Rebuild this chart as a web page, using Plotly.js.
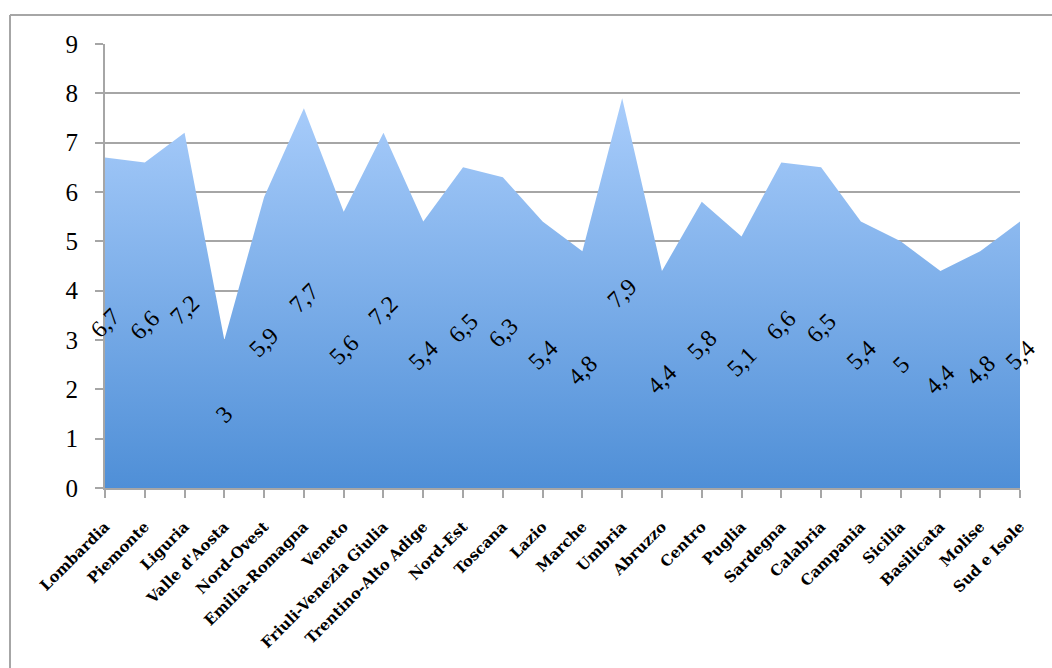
<!DOCTYPE html>
<html>
<head>
<meta charset="utf-8">
<script src="https://cdn.plot.ly/plotly-3.0.1.min.js"></script>
<style>
  html, body { margin: 0; padding: 0; background: #ffffff; }
  #chart { width: 1052px; height: 668px; }
</style>
</head>
<body>
<div id="chart"></div>
<script>
// Regions and macro-areas along the category axis
const regions = [
  "Lombardia", "Piemonte", "Liguria", "Valle d'Aosta", "Nord-Ovest",
  "Emilia-Romagna", "Veneto", "Friuli-Venezia Giulia", "Trentino-Alto Adige", "Nord-Est",
  "Toscana", "Lazio", "Marche", "Umbria", "Abruzzo",
  "Centro", "Puglia", "Sardegna", "Calabria", "Campania",
  "Sicilia", "Basilicata", "Molise", "Sud e Isole"
];

// Value per region
const values = [
  6.7, 6.6, 7.2, 3, 5.9,
  7.7, 5.6, 7.2, 5.4, 6.5,
  6.3, 5.4, 4.8, 7.9, 4.4,
  5.8, 5.1, 6.6, 6.5, 5.4,
  5, 4.4, 4.8, 5.4
];

const yTicks = [0, 1, 2, 3, 4, 5, 6, 7, 8, 9];

const SERIF = "'Liberation Serif', 'Times New Roman', serif";
const SLAB = "'DejaVu Serif', serif";

const W = 1052, H = 668;
const M = { l: 105, r: 32, t: 44, b: 180 };
const plotW = W - M.l - M.r, plotH = H - M.t - M.b;

const idx = regions.map((_, i) => i);

const trace = {
  type: 'scatter',
  mode: 'lines',
  x: idx,
  y: values,
  fill: 'tozeroy',
  line: { width: 0, color: 'rgba(0,0,0,0)' },
  fillgradient: {
    type: 'vertical',
    start: 0,
    stop: 7.9,
    colorscale: [[0, '#4f8fd7'], [1, '#a9cdfb']]
  },
  hoverinfo: 'skip',
  showlegend: false
};

// Value labels sit halfway up each point, comma as decimal separator
const labels = values.map((v, i) => ({
  x: i,
  y: v / 2,
  xref: 'x',
  yref: 'y',
  text: String(v).replace('.', ','),
  textangle: -45,
  showarrow: false,
  font: { family: SERIF, size: 24, color: '#000000' }
}));

// Outer frame: top and left edges
const px2x = p => (p - M.l) / plotW;
const px2y = p => 1 - (p - M.t) / plotH;
const frame = [
  { type: 'line', xref: 'paper', yref: 'paper', x0: px2x(10), x1: px2x(1060), y0: px2y(15), y1: px2y(15),
    line: { color: '#a6a6a6', width: 2 } },
  { type: 'line', xref: 'paper', yref: 'paper', x0: px2x(10), x1: px2x(10), y0: px2y(15), y1: px2y(680),
    line: { color: '#a6a6a6', width: 2 } }
];

const layout = {
  width: W,
  height: H,
  margin: M,
  paper_bgcolor: '#ffffff',
  plot_bgcolor: '#ffffff',
  xaxis: {
    range: [0, regions.length - 1],
    tickmode: 'array',
    tickvals: idx,
    ticktext: regions,
    tickangle: -45,
    ticks: 'outside',
    ticklen: 8,
    tickwidth: 2,
    tickcolor: '#a6a6a6',
    ticklabelstandoff: 14,
    showline: true,
    linecolor: '#a6a6a6',
    linewidth: 2,
    showgrid: false,
    zeroline: false,
    tickfont: { family: SLAB, size: 15, color: '#000000', weight: 'bold' }
  },
  yaxis: {
    range: [0, 9],
    tickmode: 'array',
    tickvals: yTicks,
    ticktext: yTicks.map(String),
    ticks: 'outside',
    ticklen: 8,
    tickwidth: 2,
    tickcolor: '#a6a6a6',
    ticklabelstandoff: 12,
    showline: true,
    linecolor: '#a6a6a6',
    linewidth: 2,
    showgrid: true,
    gridcolor: '#a6a6a6',
    gridwidth: 2,
    zeroline: false,
    tickfont: { family: SERIF, size: 25, color: '#000000' }
  },
  annotations: labels,
  shapes: frame
};

Plotly.newPlot('chart', [trace], layout, { displayModeBar: false, staticPlot: true });
</script>
</body>
</html>
